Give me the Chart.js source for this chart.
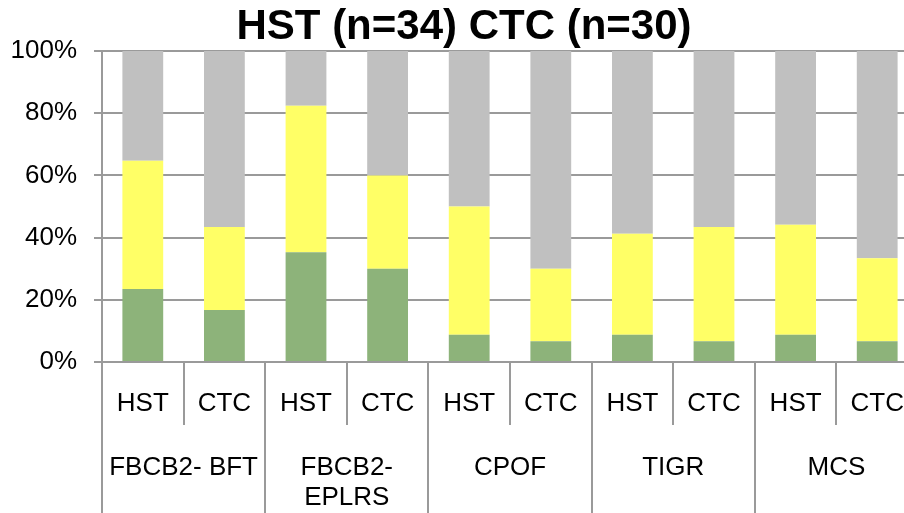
<!DOCTYPE html>
<html>
<head>
<meta charset="utf-8">
<script src="https://cdn.jsdelivr.net/npm/chart.js@4/dist/chart.umd.min.js"></script>
<style>
  html, body { margin: 0; padding: 0; overflow: hidden; background: #fff; }
  #wrap { width: 918px; height: 513px; }
</style>
</head>
<body>
<div id="wrap"><canvas id="grafico"></canvas></div>
<script>
const titulo = "HST (n=34) CTC (n=30)";
const categorias = ["HST", "CTC", "HST", "CTC", "HST", "CTC", "HST", "CTC", "HST", "CTC"];
const sistemas = [["FBCB2- BFT"], ["FBCB2-", "EPLRS"], ["CPOF"], ["TIGR"], ["MCS"]];
const verde = [23.5, 16.7, 35.3, 30.0, 8.8, 6.7, 8.8, 6.7, 8.8, 6.7];
const amarelo = [41.2, 26.7, 47.1, 30.0, 41.2, 23.3, 32.4, 36.7, 35.3, 26.7];
const cinza = [35.3, 56.6, 17.6, 40.0, 50.0, 70.0, 58.8, 56.6, 55.9, 66.6];
const ticksY = [0, 20, 40, 60, 80, 100];

const corLinha = "#9a9a9a";
const fonte = "'Liberation Sans', Arial, sans-serif";

// eixo x em dois niveis, desenhado a mao
const eixoDuplo = {
  id: "eixoDuplo",
  afterDraw(chart) {
    const ctx = chart.ctx;
    const x = chart.scales.x;
    const area = chart.chartArea;
    const passo = x.getPixelForValue(1) - x.getPixelForValue(0);
    const inicio = x.getPixelForValue(0) - passo / 2;
    ctx.save();
    ctx.strokeStyle = corLinha;
    ctx.lineWidth = 2;
    for (let i = 0; i <= categorias.length; i++) {
      const bx = Math.round(inicio + i * passo);
      ctx.beginPath();
      ctx.moveTo(bx, area.bottom);
      ctx.lineTo(bx, i % 2 === 0 ? chart.height : area.bottom + 63);
      ctx.stroke();
    }
    ctx.fillStyle = "#000";
    ctx.font = "26px " + fonte;
    ctx.textAlign = "center";
    ctx.textBaseline = "middle";
    categorias.forEach((c, i) => {
      ctx.fillText(c, x.getPixelForValue(i), area.bottom + 42);
    });
    sistemas.forEach((linhas, g) => {
      const cx = (x.getPixelForValue(2 * g) + x.getPixelForValue(2 * g + 1)) / 2;
      linhas.forEach((t, k) => {
        ctx.fillText(t, cx, area.bottom + 106 + k * 30);
      });
    });
    ctx.restore();
  },
};

new Chart(document.getElementById("grafico"), {
  type: "bar",
  data: {
    labels: categorias,
    datasets: [
      { label: "verde", data: verde, backgroundColor: "#8db37a" },
      { label: "amarelo", data: amarelo, backgroundColor: "#ffff66" },
      { label: "cinza", data: cinza, backgroundColor: "#c0c0c0" },
    ],
  },
  options: {
    responsive: true,
    maintainAspectRatio: false,
    animation: false,
    datasets: { bar: { barPercentage: 0.5, categoryPercentage: 1 } },
    layout: { padding: { left: 10, right: 0, top: 0, bottom: 151 } },
    scales: {
      x: { stacked: true, display: false },
      y: {
        stacked: true,
        min: 0,
        max: 100,
        afterBuildTicks: (s) => { s.ticks = ticksY.map((v) => ({ value: v })); },
        afterFit: (s) => { s.width = 92; },
        ticks: {
          color: "#000",
          font: { family: fonte, size: 26 },
          padding: 17,
          callback: (v) => v + "%",
        },
        grid: { color: corLinha, lineWidth: 2, tickLength: 8 },
        border: { color: corLinha, width: 2 },
      },
    },
    plugins: {
      legend: { display: false },
      tooltip: { enabled: false },
      title: {
        display: true,
        text: titulo,
        color: "#000",
        font: { family: fonte, size: 42, weight: "bold", lineHeight: 1 },
        padding: { top: 6, bottom: 3 },
      },
    },
  },
  plugins: [eixoDuplo],
});
</script>
</body>
</html>
